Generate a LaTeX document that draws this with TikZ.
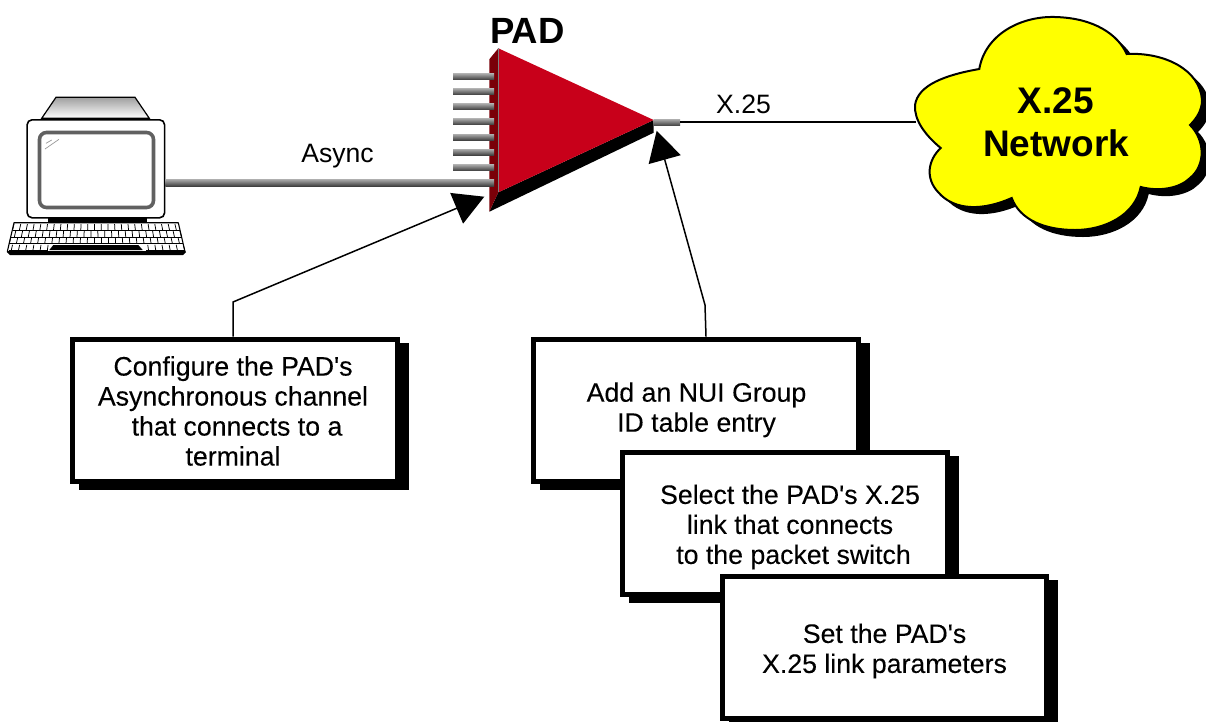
\documentclass[tikz,border=0pt]{standalone}
\usepackage{fontspec}
\setmainfont[Ligatures=TeXOff]{Liberation Sans}
\newfontfamily\boxfont[Ligatures=TeXOff,FakeBold=0.12]{Liberation Sans}
\usetikzlibrary{arrows.meta,shadows,calc}
\definecolor{padred}{HTML}{C8001A}
\definecolor{paddark}{HTML}{7A0008}
\definecolor{cloudfill}{RGB}{255,255,0}
\tikzset{
  x=1pt,y=-1pt,
  notebox/.style={draw=black,fill=white,line width=5pt,minimum width=324.5pt,minimum height=142pt,inner sep=0pt,
    drop shadow={shadow xshift=9pt,shadow yshift=-6.5pt,fill=black,draw=black,line width=5pt,opacity=1}},
  boxtext/.style={inner sep=0pt,align=center,font=\boxfont\fontsize{26.7}{30}\selectfont},
  lbl/.style={inner sep=0pt,font=\fontsize{26.6}{30}\selectfont},
  biglbl/.style={inner sep=0pt,align=center,font=\fontsize{37}{43}\selectfont\bfseries},
  cable/.style={top color=gray!70,middle color=gray,bottom color=black!75},
  leader/.style={line width=1.5pt,draw=black,-{Triangle[length=30pt,width=33pt]},shorten >=0pt},
  cloudline/.style={line width=2pt,draw=black,line join=miter},
}
\def\cloudpath{(979.3,69) .. controls (985,35) and (1020,16) .. (1055,17) .. controls (1095,18) and (1118,35) .. (1126.7,54)
 .. controls (1165,52) and (1200,70) .. (1202,100) .. controls (1202,110) and (1197,118) .. (1190,125)
 .. controls (1205,140) and (1206,165) .. (1190,178) .. controls (1180,188) and (1160,192) .. (1140.7,187)
 .. controls (1135,215) and (1105,230) .. (1075,230) .. controls (1045,230) and (1020,220) .. (1011.7,198)
 .. controls (985,210) and (955,212) .. (938,192) .. controls (925,178) and (928,160) .. (940.7,148)
 .. controls (925,135) and (914,120) .. (915,105) .. controls (918,85) and (945,75) .. (979.3,69) -- cycle}
\begin{document}
\begin{tikzpicture}
\useasboundingbox (0,0) rectangle (1206,721);
% terminal
\shade[top color=gray!75,bottom color=white,draw=black,line width=1.2pt] (41.7,118.3) -- (56,97.3) -- (135,97.3) -- (149.3,118.3) -- cycle;
\fill[black] (48.3,216) rectangle (146.7,223);
\node[draw=black,fill=white,line width=1.6pt,rounded corners=5pt,minimum width=137.5pt,minimum height=98pt,inner sep=0pt] (mon) at (95.85,168.8) {};
\draw[draw=black!62,fill=white,line width=3.6pt,rounded corners=7pt] (39.5,132.5) rectangle (153.5,207.5);
\draw[black!40,line width=.7pt] (45,149) -- (59,139.3) (46,143.3) -- (51.7,140);
% keyboard
\fill[black] (7.3,251) -- (185,251) -- (186,252) -- (183,255) -- (10,255) -- (7,252) -- cycle;
\draw[black,fill=white,line width=1.1pt,line join=round] (14,222.7) -- (178.3,222.7) -- (185,251.7) -- (7.3,251.7) -- cycle;
\foreach \r in {0,1,2,3}{
  \pgfmathsetmacro{\fa}{\r/4}
  \pgfmathsetmacro{\fb}{(\r+.85)/4}
  \pgfmathsetmacro{\ya}{222.7+\r*6.9+1.4}
  \pgfmathsetmacro{\yb}{\ya+5.9}
  \pgfmathsetmacro{\st}{mod(\r,2)*.5}
  \pgfmathsetmacro{\xla}{14-6.7*\fa}
  \pgfmathsetmacro{\xra}{178.3+6.7*\fa}
  \pgfmathsetmacro{\xlb}{14-6.7*\fb}
  \pgfmathsetmacro{\xrb}{178.3+6.7*\fb}
  \foreach \c in {0,...,24}{
    \pgfmathsetmacro{\t}{(\c+\st)/24.5}
    \pgfmathtruncatemacro{\skip}{(\r==3 && \c>5 && \c<19) ? 1 : 0}
    \ifnum\skip=0
      \draw[black,line width=.75pt] ({\xla+\t*(\xra-\xla)},\ya) -- ({\xlb+\t*(\xrb-\xlb)},\yb);
    \fi
  }
  \ifnum\r=3
    \draw[black,line width=.75pt] ({\xla},\yb) -- ({\xlb+.23*(\xrb-\xlb)},\yb) ({\xlb+.78*(\xrb-\xlb)},\yb) -- ({\xrb},\yb);
  \else
    \draw[black,line width=.75pt] ({\xlb},\yb) -- ({\xrb},\yb);
  \fi
}
\fill[black] (53.3,245) -- (138.3,245) -- (142.7,250) -- (49.3,250) -- cycle;
% PAD body
\coordinate (padtop) at (498.3,48.3);
\coordinate (padtip) at (653.7,120);
\coordinate (padbot) at (498.3,192.3);
\fill[black] (padbot) -- (padtip) -- (653.7,132.7) -- (489.3,211.7) -- cycle;
\fill[paddark] (489.3,59.3) -- (padtop) -- (padbot) -- (489.3,211.7) -- cycle;
\fill[padred] (padtop) -- (padtip) -- (padbot) -- cycle;
\draw[gray,line width=.5pt] (padtop) -- (padbot);
% channels
\foreach \yy in {76.7,91.7,106.7,121.7,137.3,152.3,167.7}{
  \shade[cable] (453,\yy-2.9) rectangle (494,\yy+2.9);
}
\shade[cable] (mon.east |- 0,179.6) rectangle (494,186);
\shade[cable] (padtip |- 0,119.5) rectangle (680,125.7);
% network
\coordinate (cloudin) at (916,122);
\coordinate (stubend) at (680,122);
\draw[line width=1.3pt] (stubend) -- (cloudin);
\begin{scope}[shift={(8,7)}]
\fill[black] \cloudpath;
\end{scope}
\filldraw[cloudline,fill=cloudfill] \cloudpath;
\node[biglbl] (net) at (1056,122) {X.25\\Network};
\node[inner sep=0pt,font=\fontsize{36.5}{40}\selectfont\bfseries] (padlbl) at (527.5,31) {PAD};
\node[lbl] (async) at (337.5,156) {Async};
\node[lbl] (xlbl) at (743.5,104) {X.25};
% boxes
\coordinate (bendL) at (233,302);
\coordinate (tipL) at (484.3,196.7);
\coordinate (bendR) at (705,305);
\coordinate (tipR) at (656.7,130.7);
\node[notebox] (b1) at (234.75,410) {};
\node[boxtext] (t1) at (233,411) {Configure the PAD's\\Asynchronous channel\\\hspace*{8pt}that connects to a\\terminal};
\node[notebox] (b2) at (695.85,410) {};
\node[boxtext] (t2) at (696.5,409.8) {Add an NUI Group\\ID table entry};
\node[notebox] (b3) at (785,523) {};
\node[boxtext] (t3) at (790,527) {Select the PAD's X.25\\link that connects\\\hspace*{7pt}to the packet switch};
\node[notebox] (b4) at (884.5,647) {};
\node[boxtext] (t4) at (884.5,651) {Set the PAD's\\X.25 link parameters};
\draw[leader] (bendL |- b1.north) -- (bendL) -- (tipL);
\draw[leader] (706,336.7) -- (bendR) -- (tipR);
\end{tikzpicture}
\end{document}
